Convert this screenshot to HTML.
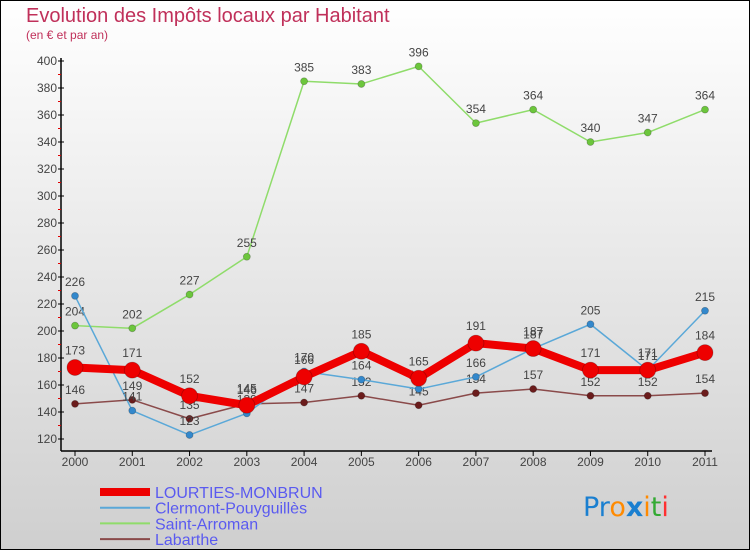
<!DOCTYPE html>
<html><head><meta charset="utf-8"><style>
body{margin:0}
svg{display:block;font-family:"Liberation Sans","DejaVu Sans",sans-serif}
</style></head><body>
<svg width="750" height="550" xmlns="http://www.w3.org/2000/svg">
<defs><linearGradient id="bg" x1="0" y1="0" x2="0" y2="1"><stop offset="0" stop-color="#ffffff"/><stop offset="1" stop-color="#cfcfcf"/></linearGradient></defs>
<rect x="0.5" y="0.5" width="749" height="549" fill="url(#bg)" stroke="#000"/>
<text x="26" y="22" font-size="20" fill="#c0305a">Evolution des Impôts locaux par Habitant</text>
<text x="26" y="39" font-size="12" fill="#c0305a">(en € et par an)</text>
<g id="axes"></g>
<g id="series"></g>
<g id="legend"></g>
<text x="583" y="516" font-size="27" font-family="DejaVu Sans, sans-serif"><tspan fill="#1a7fd0">Pr</tspan><tspan fill="#ff8a00">o</tspan><tspan fill="#1a7fd0" font-weight="bold">x</tspan><tspan fill="#ff8a00">i</tspan><tspan fill="#33aa33">t</tspan><tspan fill="#ff3030">i</tspan></text>
</svg>
<script>
const years=[2000,2001,2002,2003,2004,2005,2006,2007,2008,2009,2010,2011];
const lourties=[173,171,152,145,166,185,165,191,187,171,171,184];
const clermont=[226,141,123,139,170,164,157,166,187,205,171,215];
const arroman=[204,202,227,255,385,383,396,354,364,340,347,364];
const labarthe=[146,149,135,146,147,152,145,154,157,152,152,154];
const yTicks=[120,140,160,180,200,220,240,260,280,300,320,340,360,380,400];
const NS="http://www.w3.org/2000/svg";
const X=i=>75+i*(630/11);
const Y=v=>439-(v-120)*(378/280);
function mk(t,a,p){const e=document.createElementNS(NS,t);for(const k in a)e.setAttribute(k,a[k]);p.appendChild(e);return e;}
const ax=document.getElementById('axes');
let l=mk('line',{x1:61,y1:58,x2:61,y2:451,stroke:'#000','stroke-width':1.5},ax);


l=mk('line',{x1:61,y1:451,x2:712,y2:451,stroke:'#000','stroke-width':1.5},ax);


yTicks.forEach(v=>{
 mk('line',{x1:58,y1:Y(v),x2:64,y2:Y(v),stroke:'#000'},ax);
 if(v<400)mk('line',{x1:58,y1:Y(v+10),x2:61,y2:Y(v+10),stroke:'#e00000'},ax);
 const t=mk('text',{x:57,y:Y(v)+4,'font-size':12,fill:'#444','text-anchor':'end'},ax);t.textContent=v;
 
 
});
years.forEach((yr,i)=>{
 mk('line',{x1:X(i),y1:451,x2:X(i),y2:456,stroke:'#000'},ax);
 const t=mk('text',{x:X(i),y:466,'font-size':12,fill:'#444','text-anchor':'middle'},ax);t.textContent=yr;
 
 
});
const sg=document.getElementById('series');
const series=[
 {n:'saint-arroman',d:arroman,c:'#8fdc6a',pc:'#6cc63c',w:1.5,r:3.5},
 {n:'labarthe',d:labarthe,c:'#8a4a4a',pc:'#6b1c1c',w:1.5,r:3.5},
 {n:'clermont-pouyguilles',d:clermont,c:'#5aa8d8',pc:'#3388cc',w:1.5,r:3.5},
 {n:'lourties-monbrun',d:lourties,c:'#ee0000',pc:'#ee0000',w:8,r:8}];
series.forEach(s=>{
 const g=mk('g',{},sg);
 
 
 mk('polyline',{points:s.d.map((v,i)=>X(i)+','+Y(v)).join(' '),fill:'none',stroke:s.c,'stroke-width':s.w,'stroke-linejoin':'round'},g);
 s.d.forEach((v,i)=>{
  const c=mk('circle',{cx:X(i),cy:Y(v),r:s.r,fill:s.pc,stroke:'rgba(0,0,0,0.25)','stroke-width':0.8},g);
  
  
  const t=mk('text',{x:X(i),y:Y(v)-(s.w>2?13:10),'font-size':12,fill:'#444','text-anchor':'middle'},g);t.textContent=v;
  
  
 });
});
const lg=document.getElementById('legend');
const names=['LOURTIES-MONBRUN','Clermont-Pouyguillès','Saint-Arroman','Labarthe'];
const lc=['#ee0000','#5aa8d8','#8fdc6a','#8a4a4a'];const lw=[8,2,2,2];
names.forEach((n,i)=>{
 const y=492+i*15.7;
 const g=mk('g',{},lg);
 
 
 mk('line',{x1:100,y1:y,x2:150,y2:y,stroke:lc[i],'stroke-width':lw[i]},g);
 const t=mk('text',{x:155,y:y+6,'font-size':16,fill:'#5a5af0'},g);t.textContent=n;
});
</script>
</body></html>
